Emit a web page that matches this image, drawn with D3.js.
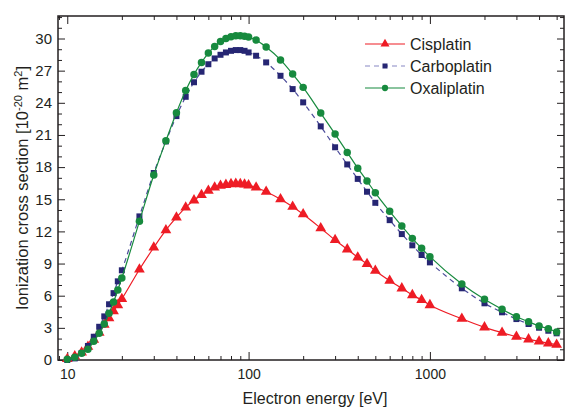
<!DOCTYPE html>
<html>
<head>
<meta charset="utf-8">
<script src="https://cdn.jsdelivr.net/npm/d3@7"></script>
<style>
  html, body { margin: 0; padding: 0; background: #fff; }
  #chart { width: 566px; height: 410px; }
  text { font-family: "Liberation Sans", Arial, sans-serif; fill: #231f20; }
</style>
</head>
<body>
<div id="chart"></div>
<script>
// --------------------------------------------------------- Data
var energies = [10, 11, 12, 13, 14, 15, 16, 17, 18, 19, 20, 25, 30, 35, 40, 45, 50, 55, 60, 65,
                70, 75, 80, 85, 90, 95, 100, 110, 125, 150, 175, 200, 250, 300, 350, 400, 450, 500,
                600, 700, 800, 900, 1000, 1500, 2000, 2500, 3000, 3500, 4000, 4500, 5000];

var cisplatin = [0.1, 0.35, 0.7, 1.25, 1.9, 2.55, 3.3, 3.9, 4.57, 5.13, 5.7, 8.45, 10.5, 12.12, 13.3,
                 14.24, 14.9, 15.4, 15.8, 16.1, 16.26, 16.35, 16.42, 16.45, 16.42, 16.39, 16.3, 16.1,
                 15.7, 15.0, 14.3, 13.6, 12.3, 11.2, 10.33, 9.58, 8.96, 8.33, 7.4, 6.69, 6.06, 5.6,
                 5.13, 3.85, 3.05, 2.55, 2.17, 1.93, 1.74, 1.56, 1.43];

var carboplatin = [0.0, 0.15, 0.65, 1.31, 2.17, 3.1, 4.07, 5.2, 6.24, 7.34, 8.37, 13.4, 17.45, 20.4,
                   22.76, 24.56, 25.92, 26.9, 27.6, 28.14, 28.48, 28.7, 28.85, 28.92, 28.92, 28.85,
                   28.7, 28.39, 27.77, 26.52, 25.28, 24.04, 21.8, 19.85, 18.25, 16.9, 15.7, 14.67,
                   13.05, 11.75, 10.7, 9.8, 9.11, 6.69, 5.29, 4.45, 3.82, 3.36, 3.01, 2.73, 2.49];

var oxaliplatin = [0.07, 0.25, 0.63, 1.0, 1.74, 2.49, 3.36, 4.36, 5.41, 6.53, 7.65, 12.94, 17.26, 20.46,
                   23.07, 25.14, 26.65, 27.77, 28.64, 29.26, 29.73, 30.0, 30.16, 30.25, 30.25, 30.2,
                   30.13, 29.85, 29.2, 28.0, 26.68, 25.44, 23.04, 21.08, 19.37, 17.9, 16.7, 15.6,
                   13.87, 12.5, 11.35, 10.42, 9.64, 7.09, 5.66, 4.73, 4.04, 3.57, 3.17, 2.92, 2.61];

var seriesNames = ['Cisplatin', 'Carboplatin', 'Oxaliplatin'];
var xTickValues = [10, 100, 1000];
var yTickValues = [0, 3, 6, 9, 12, 15, 18, 21, 24, 27, 30];
// --------------------------------------------------------- /Data

var width = 566, height = 410;
var frame = {left: 58, right: 564, top: 16, bottom: 360};

var x = d3.scaleLog().domain([8.89, 5490]).range([frame.left, frame.right]);
var y = d3.scaleLinear().domain([0, 32.1]).range([frame.bottom, frame.top]);

var svg = d3.select('#chart').append('svg')
    .attr('width', width)
    .attr('height', height);

// minor ticks
var xMinor = [];
[1, 10, 100, 1000].forEach(function(d) {
  for (var k = 1; k < 10; k++) {
    var v = d * k;
    if (v >= 8.89 && v <= 5490 && xTickValues.indexOf(v) < 0) xMinor.push(v);
  }
});
var yMinor = d3.range(0, 33).filter(function(v) { return v % 3 != 0; });

function tickStyle(g) {
  g.select('.domain').remove();
  g.selectAll('line').attr('stroke', '#231f20').attr('stroke-width', 1);
}

// bottom axis
svg.append('g')
    .attr('transform', 'translate(0,' + frame.bottom + ')')
    .call(d3.axisBottom(x).tickValues(xTickValues).tickSize(-8).tickPadding(9).tickFormat(d3.format('d')))
    .call(tickStyle)
    .selectAll('text').style('font-size', '14px').attr('fill', '#231f20');
svg.append('g')
    .attr('transform', 'translate(0,' + frame.bottom + ')')
    .call(d3.axisBottom(x).tickValues(xMinor).tickSize(-4).tickFormat(''))
    .call(tickStyle);

// top axis (mirror)
svg.append('g')
    .attr('transform', 'translate(0,' + frame.top + ')')
    .call(d3.axisTop(x).tickValues(xTickValues).tickSize(-8).tickFormat(''))
    .call(tickStyle);
svg.append('g')
    .attr('transform', 'translate(0,' + frame.top + ')')
    .call(d3.axisTop(x).tickValues(xMinor).tickSize(-4).tickFormat(''))
    .call(tickStyle);

// left axis
svg.append('g')
    .attr('transform', 'translate(' + frame.left + ',0)')
    .call(d3.axisLeft(y).tickValues(yTickValues).tickSize(-7).tickPadding(6))
    .call(tickStyle)
    .selectAll('text').style('font-size', '15px').attr('fill', '#231f20');
svg.append('g')
    .attr('transform', 'translate(' + frame.left + ',0)')
    .call(d3.axisLeft(y).tickValues(yMinor).tickSize(-4).tickFormat(''))
    .call(tickStyle);

// right axis (mirror)
svg.append('g')
    .attr('transform', 'translate(' + frame.right + ',0)')
    .call(d3.axisRight(y).tickValues(yTickValues).tickSize(-7).tickFormat(''))
    .call(tickStyle);
svg.append('g')
    .attr('transform', 'translate(' + frame.right + ',0)')
    .call(d3.axisRight(y).tickValues(yMinor).tickSize(-4).tickFormat(''))
    .call(tickStyle);

// frame
svg.append('rect')
    .attr('x', frame.left).attr('y', frame.top)
    .attr('width', frame.right - frame.left).attr('height', frame.bottom - frame.top)
    .attr('fill', 'none').attr('stroke', '#231f20').attr('stroke-width', 1.5);

// axis titles
svg.append('text')
    .attr('x', 315).attr('y', 404)
    .attr('text-anchor', 'middle')
    .style('font-size', '16px')
    .text('Electron energy [eV]');

var yTitle = svg.append('text')
    .attr('transform', 'translate(28,' + ((frame.top + frame.bottom) / 2) + ') rotate(-90)')
    .attr('text-anchor', 'middle')
    .style('font-size', '16.5px');
yTitle.append('tspan').text('Ionization cross section [10');
yTitle.append('tspan').attr('dy', -6).style('font-size', '11px').text('-20');
yTitle.append('tspan').attr('dy', 6).text(' m');
yTitle.append('tspan').attr('dy', -6).style('font-size', '11px').text('2');
yTitle.append('tspan').attr('dy', 6).text(']');

// ---------------------------------------------------------- Series
var series = [
  {name: seriesNames[0], values: cisplatin,   color: '#ee1c25', line: '#ee1c25', dash: null,  shape: d3.symbolTriangle, size: 50},
  {name: seriesNames[1], values: carboplatin, color: '#262673', line: '#4b4b9a', dash: '5,4', shape: d3.symbolSquare,   size: 36},
  {name: seriesNames[2], values: oxaliplatin, color: '#178a3e', line: '#178a3e', dash: null,  shape: d3.symbolCircle,   size: 44}
];

var line = d3.line()
    .x(function(d) { return x(d[0]); })
    .y(function(d) { return y(d[1]); })
    .curve(d3.curveMonotoneX);

var plot = svg.append('g');

series.forEach(function(s) {
  var pts = energies.map(function(e, i) { return [e, s.values[i]]; });
  plot.append('path')
      .datum(pts)
      .attr('d', line)
      .attr('fill', 'none')
      .attr('stroke', s.line)
      .attr('stroke-width', 1.2)
      .attr('stroke-dasharray', s.dash);
  plot.selectAll(null)
      .data(pts)
    .enter().append('path')
      .attr('transform', function(d) { return 'translate(' + x(d[0]) + ',' + y(d[1]) + ')'; })
      .attr('d', d3.symbol().type(s.shape).size(s.size))
      .attr('fill', s.color);
});

// ---------------------------------------------------------- Legend
var legend = svg.append('g');
var legendY = [44, 66, 88];
series.forEach(function(s, i) {
  var g = legend.append('g').attr('transform', 'translate(0,' + legendY[i] + ')');
  g.append('line')
      .attr('x1', 365).attr('x2', 405)
      .attr('stroke', s.dash ? '#8888c4' : s.line)
      .attr('stroke-width', 1.2)
      .attr('stroke-dasharray', s.dash);
  g.append('path')
      .attr('transform', 'translate(385,0)')
      .attr('d', d3.symbol().type(s.shape).size(s.size * 0.7))
      .attr('fill', s.color);
  g.append('text')
      .attr('x', 410).attr('y', 5.5)
      .style('font-size', '16px')
      .text(s.name);
});
</script>
</body>
</html>
